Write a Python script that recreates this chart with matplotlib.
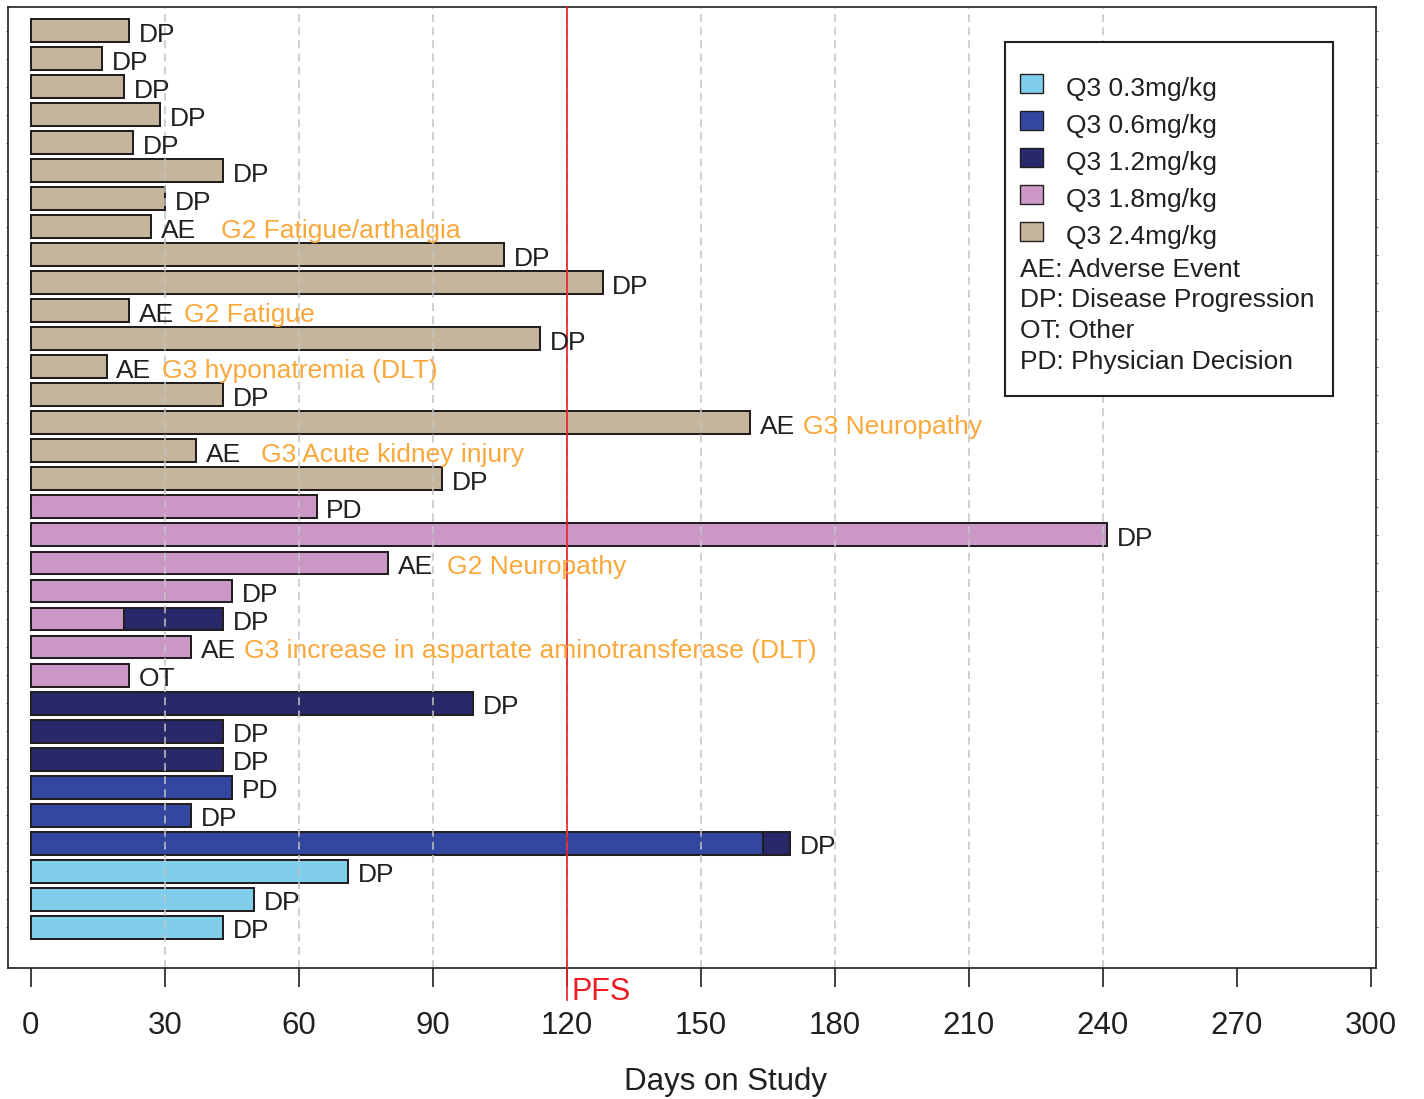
import matplotlib
matplotlib.use("Agg")
import matplotlib.pyplot as plt
from matplotlib.patches import Rectangle
from matplotlib.transforms import Affine2D
import numpy as np

plt.rcParams['font.family'] = ['Liberation Sans', 'DejaVu Sans']

# ---------------- data (top bar first) ----------------
start_dose = ['2.4'] * 17 + ['1.8'] * 7 + ['1.2'] * 3 + ['0.6'] * 3 + ['0.3'] * 3
days_on_study = [22, 16, 21, 29, 23, 43, 30, 27, 106, 128, 22, 114, 17, 43, 161, 37, 92,
                 64, 241, 80, 45, 43, 36, 22,
                 99, 43, 43,
                 45, 36, 170,
                 71, 50, 43]
reason = ['DP', 'DP', 'DP', 'DP', 'DP', 'DP', 'DP', 'AE', 'DP', 'DP', 'AE', 'DP', 'AE', 'DP', 'AE', 'AE', 'DP',
          'PD', 'DP', 'AE', 'DP', 'DP', 'AE', 'OT',
          'DP', 'DP', 'DP',
          'PD', 'DP', 'DP',
          'DP', 'DP', 'DP']
# dose changes: row index, day of change, new dose
change_rows = [21, 29]
change_days = [21, 164]
change_dose = ['1.2', '1.2']
# adverse event details
ae_rows = [7, 10, 12, 14, 15, 19, 22]
ae_details = ['G2 Fatigue/arthalgia', 'G2 Fatigue', 'G3 hyponatremia (DLT)', 'G3 Neuropathy',
              'G3 Acute kidney injury', 'G2 Neuropathy',
              'G3 increase in aspartate aminotransferase (DLT)']
ae_note_x = [42.5, 34.3, 29.3, 172.9, 51.6, 93.1, 47.8]

dose_levels = ['0.3', '0.6', '1.2', '1.8', '2.4']
dose_labels = ['Q3 0.3mg/kg', 'Q3 0.6mg/kg', 'Q3 1.2mg/kg', 'Q3 1.8mg/kg', 'Q3 2.4mg/kg']
reason_legend = ['AE: Adverse Event', 'DP: Disease Progression', 'OT: Other', 'PD: Physician Decision']
pfs_day = 120
x_ticks = list(range(0, 301, 30))
grid_days = list(range(30, 241, 30))

# ---------------- style ----------------
colors = {'0.3': '#80CEEB', '0.6': '#3447A0', '1.2': '#29286A', '1.8': '#CB98C6', '2.4': '#C5B59C'}
dark = '#231F20'
orange = '#F9A83C'
red = '#EC1C24'
W, H = 1424, 1099

fig = plt.figure(figsize=(W / 100, H / 100), dpi=100)
ax = fig.add_axes([8 / W, 1 - 968 / H, 1368 / W, 961 / H])

n = len(days_on_study)
ypos = np.arange(n)
bar_h = 0.82

first_width = list(days_on_study)
for r, d in zip(change_rows, change_days):
    first_width[r] = d
ax.barh(ypos, first_width, left=0, height=bar_h,
        color=[colors[d] for d in start_dose], edgecolor=dark, linewidth=1.45, zorder=1)
ax.barh([ypos[r] for r in change_rows],
        [days_on_study[r] - d for r, d in zip(change_rows, change_days)],
        left=change_days, height=bar_h,
        color=[colors[d] for d in change_dose], edgecolor=dark, linewidth=1.45, zorder=1)

ax.set_xlim(-5.06, 301.1)
ax.set_ylim(33.46, -0.85)

# grid (dashed, over bars)
ax.vlines(grid_days, 0, 1, transform=ax.get_xaxis_transform(), colors='#C4C4C4',
          linewidth=1.1, linestyles=(0, (5.2, 3.4)), zorder=2)
# PFS line
ax.axvline(pfs_day, ymin=-0.0333, ymax=1, color=red, linewidth=1.2, clip_on=False, zorder=2.6)
ax.annotate('PFS', xy=(pfs_day, -0.0333), xycoords=ax.get_xaxis_transform(),
            xytext=(3.6, 0), textcoords='offset points', va='baseline', ha='left',
            color=red, fontsize=22, annotation_clip=False)

# end-of-treatment labels
for i in range(n):
    ax.annotate(reason[i], xy=(days_on_study[i], ypos[i]), xytext=(7.0, -8.1),
                textcoords='offset points', va='baseline', ha='left',
                fontsize=19, color=dark, zorder=4)
for r, txt, xn in zip(ae_rows, ae_details, ae_note_x):
    ax.annotate(txt, xy=(xn, ypos[r]), xytext=(0, -8.1),
                textcoords='offset points', va='baseline', ha='left',
                fontsize=19, color=orange, zorder=4)

# axes styling
ax.set_xticks(x_ticks)
ax.set_xticklabels([str(t) for t in x_ticks])
ax.tick_params(axis='x', direction='out', length=13.7, width=1.2, color=dark,
               labelsize=22.5, pad=17, labelcolor=dark)
ax.set_yticks(ypos)
ax.set_yticklabels([])
ax.tick_params(axis='y', direction='out', length=1.5, width=0.8, color='#707070',
               left=True, right=True)
for s in ax.spines.values():
    s.set_linewidth(1.2)
    s.set_color(dark)
ax.set_xlabel('Days on Study', fontsize=22.5, color=dark, va='baseline')
ax.xaxis.set_label_coords((726 - 8) / 1368, (968 - 1090) / 961)

# legend (drawn in figure pixel coordinates)
tpix = Affine2D().scale(1 / W, -1 / H).translate(0, 1) + fig.transFigure
fig.add_artist(Rectangle((1005, 42), 327.7, 354, transform=tpix, facecolor='white',
                         edgecolor=dark, linewidth=1.5, zorder=5))
for k, (lev, lab) in enumerate(zip(dose_levels, dose_labels)):
    base = 96 + 36.9 * k
    fig.add_artist(Rectangle((1019.5, base - 12.5 - 9.5), 23, 19, transform=tpix,
                             facecolor=colors[lev], edgecolor=dark, linewidth=1.0, zorder=6))
    fig.text(1066.5, base, lab, transform=tpix, fontsize=19, color=dark,
             va='baseline', ha='left', zorder=6)
for k, lab in enumerate(reason_legend):
    base = 276.7 + 30.6 * k
    fig.text(1020, base, lab, transform=tpix, fontsize=19, color=dark,
             va='baseline', ha='left', zorder=6)

fig.savefig('out.png', dpi=100)
